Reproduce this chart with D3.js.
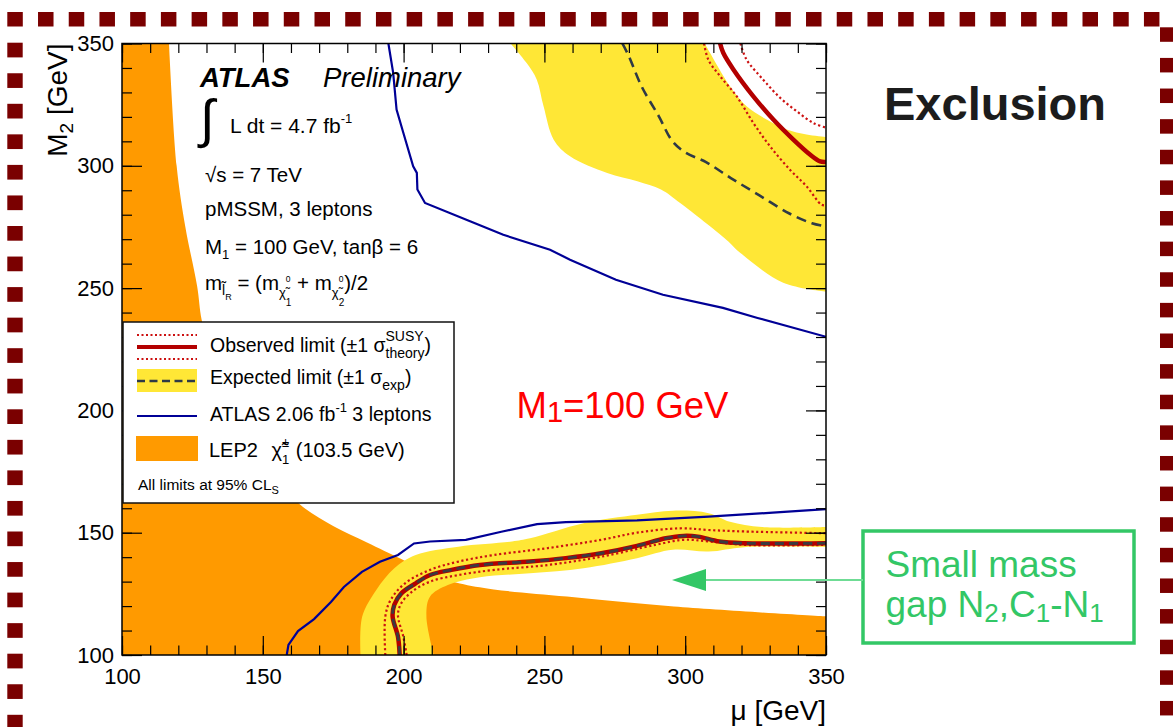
<!DOCTYPE html>
<html>
<head>
<meta charset="utf-8">
<script src="https://cdn.jsdelivr.net/npm/d3@7"></script>
<style>
  body { margin: 0; background: #fff; }
  svg { display: block; }
  text { font-family: "Liberation Sans", Arial, Helvetica, sans-serif; white-space: pre; }
</style>
</head>
<body>
<svg id="chart" width="1173" height="727"></svg>
<script>
// ---- axis ranges and ticks ----
const muRange = [100, 350];
const m2Range = [100, 350];
const majorTicks = [100, 150, 200, 250, 300, 350];
const minorTicks = d3.range(100, 351, 10);

// ---- LEP2 chargino exclusion boundary (region below/left is excluded) ----
const lepBoundary = [[116.7,350],[119.4,300],[122.5,275],[126.7,250.7],[128.3,237],[132,222],[138,205],[146,188],[154,174],[162.5,162.2],[175.3,152.5],[187,146],[199,139.3],[206,135.2],[212,132],[220,129.2],[232,126.8],[258,123.9],[296,119.8],[350,115.8]];

// ---- expected limit +-1 sigma band, high-M2 lobe ----
const expBandHighLower = [[238,350],[243.7,342],[247.3,335.2],[249.7,324.3],[253.3,310.7],[259.1,303.9],[272.3,297.1],[283,293.7],[291.4,290.3],[298.2,284.8],[314.7,269.7],[319.5,264.5],[334.8,252.2],[350,248.6]];
const expBandHighUpper = [[307,350],[308.8,346.2],[315.9,332.5],[321.8,324.3],[328.9,318.9],[336,314.8],[343.1,312.8],[350,311.8]];
// ---- expected limit +-1 sigma band, low-M2 strip ----
const expBandLowUpper = [[184.7,100],[185.3,115.7],[190.3,126.6],[196.7,135.5],[204.3,140.9],[219.5,144.3],[238.5,146.4],[244.9,147.7],[263.9,153.9],[282.9,157.3],[295.6,159],[308.3,158],[315.9,154.5],[327.3,152.3],[350,152.3]];
const expBandLowLower = [[210.7,100],[208.1,115.7],[209.4,123.9],[215.7,128.6],[227.1,131.8],[244.9,133.4],[263.9,135.5],[282.9,139.6],[295.6,143],[308.3,142.3],[321,144.1],[350,144.1]];

// ---- expected limit (median) ----
const expHigh = [[277.7,350],[280,344.8],[284.5,332.5],[290.6,320.3],[295.5,310],[300,305.5],[307.4,301.5],[316.2,295],[326.5,287.8],[337,280.5],[345,276.5],[350,275.2]];
const expLow = [[198.6,100],[198,107.5],[196.1,115.7],[196.7,120.5],[199.2,125.2],[204.3,129.3],[209.4,132.7],[217,134.8],[227.1,136.8],[244.9,138.2],[257.6,139.6],[270.2,141.6],[282.9,144.6],[293.1,147.7],[299.4,148.7],[304.5,148.4],[312.1,146.4],[321,145.7],[350,145.7]];

// ---- observed limit and +-1 sigma theory variations ----
const obsHigh = [[312.4,350],[313.5,346.2],[317.1,339.4],[324.2,328.4],[331.3,318.9],[338.4,310.7],[344.3,304.6],[347.9,301.8],[350,301.6]];
const obsHighUp = [[319.6,350],[321.8,343.4],[327.7,335.2],[333.7,327.8],[339.6,322.3],[345.5,317.5],[350,315.6]];
const obsHighDown = [[306.7,350],[308.2,343.4],[312.4,336.6],[318.3,328.4],[324.2,317.5],[330.1,308],[337.2,298.4],[343.1,291.6],[348.4,284.1],[350,283.8]];
const obsLow = expLow;
const obsLowUp = [[193.5,100],[193.5,115.7],[195.4,122.5],[200.5,129.3],[209.4,134.8],[219.5,138.2],[232.2,140.9],[251.2,143.7],[270.2,147.1],[282.9,150],[298.2,151.8],[308.3,151.1],[321,150.5],[350,149.8]];
const obsLowDown = [[201.1,100],[199.9,107.5],[198,116.4],[199.2,121.2],[203,125.9],[209.4,130],[219.5,132.7],[232.2,134.8],[251.2,136.8],[270.2,140.2],[289.3,145],[299.4,147.1],[308.3,146.4],[321,145],[350,145]];

// ---- previous ATLAS 2.06 fb-1 result ----
const atlasPrevHigh = [[194.6,350],[196.3,338],[197.5,323],[199.9,313.5],[203.4,299.8],[204.7,297.1],[204.9,290.3],[207.6,284.8],[223.6,277.3],[235.4,271.8],[252,265.7],[259.1,261.6],[275.4,253.4],[292.1,247.3],[313.4,241.9],[325.7,237.8],[350,230.1]];
const atlasPrevLow = [[158.5,100],[159.1,104.1],[162.5,109.8],[168.2,114.7],[174.2,121.7],[178.8,127.8],[185.2,134],[191.6,138.1],[198,140.9],[203.7,145.6],[209.4,146.4],[222.1,147.1],[234.7,150.4],[247.4,153.5],[257.6,154.3],[282.9,155],[308.3,156.6],[331.1,158.2],[350,159.6]];

// ---- colours ----
const C = {
  lep: "#ff9a00", band: "#ffe736", obs: "#b30000", obsDot: "#cc1111",
  exp: "#2f3a46", prev: "#000096", frame: "#7a0000", green: "#33c766", note: "#ff0000"
};

const svg = d3.select("#chart");
const W = 1173, H = 727;
svg.append("rect").attr("width", W).attr("height", H).attr("fill", "#fff");

const plot = { left: 122, right: 826, top: 43.5, bottom: 655 };
const x = d3.scaleLinear().domain(muRange).range([plot.left, plot.right]);
const y = d3.scaleLinear().domain(m2Range).range([plot.bottom, plot.top]);

svg.append("clipPath").attr("id", "plotClip").append("rect")
  .attr("x", plot.left).attr("y", plot.top)
  .attr("width", plot.right - plot.left).attr("height", plot.bottom - plot.top);

const smooth = d3.line().x(d => x(d[0])).y(d => y(d[1])).curve(d3.curveCatmullRom.alpha(0.5));
const straight = d3.line().x(d => x(d[0])).y(d => y(d[1]));
const bandPath = (a, b) => smooth(a) + smooth(b.slice().reverse()).replace(/^M/, "L") + "Z";

const g = svg.append("g").attr("clip-path", "url(#plotClip)");

// LEP2 excluded area
g.append("path")
  .attr("d", smooth(lepBoundary) +
    `L${x(350)},${y(100)}L${x(100)},${y(100)}L${x(100)},${y(350)}Z`)
  .attr("fill", C.lep);

// expected +-1 sigma bands
g.append("path").attr("d", bandPath(expBandHighLower, expBandHighUpper)).attr("fill", C.band);
g.append("path").attr("d", bandPath(expBandLowUpper, expBandLowLower)).attr("fill", C.band);

// previous ATLAS contour
[atlasPrevHigh, atlasPrevLow].forEach(d =>
  g.append("path").attr("d", straight(d)).attr("fill", "none")
    .attr("stroke", C.prev).attr("stroke-width", 2.2));

// observed +-1 sigma theory (dotted)
[obsHighUp, obsHighDown, obsLowUp, obsLowDown].forEach(d =>
  g.append("path").attr("d", smooth(d)).attr("fill", "none")
    .attr("stroke", C.obsDot).attr("stroke-width", 2.2).attr("stroke-dasharray", "2.2,2.6"));

// observed limit (solid)
[obsHigh, obsLow].forEach(d =>
  g.append("path").attr("d", smooth(d)).attr("fill", "none")
    .attr("stroke", C.obs).attr("stroke-width", 4.5));

// expected limit (dashed)
g.append("path").attr("d", smooth(expHigh)).attr("fill", "none")
  .attr("stroke", C.exp).attr("stroke-width", 2.6).attr("stroke-dasharray", "10,6");
g.append("path").attr("d", smooth(expLow)).attr("fill", "none")
  .attr("stroke", "#3b3b40").attr("stroke-width", 2.8).attr("stroke-dasharray", "9,5");

// ---- axes: ticks on all four sides, labels on bottom and left ----
function tickAxis(axisFn, scale, values, len, transform) {
  svg.append("g").attr("transform", transform)
    .call(axisFn(scale).tickValues(values).tickSize(-len).tickFormat(""))
    .call(a => a.select(".domain").remove())
    .call(a => a.selectAll("line").attr("stroke", "#000").attr("stroke-width", 1.2));
}
tickAxis(d3.axisBottom, x, minorTicks, 9.5, `translate(0,${plot.bottom})`);
tickAxis(d3.axisBottom, x, majorTicks, 19, `translate(0,${plot.bottom})`);
tickAxis(d3.axisTop, x, minorTicks, 9.5, `translate(0,${plot.top})`);
tickAxis(d3.axisTop, x, majorTicks, 19, `translate(0,${plot.top})`);
tickAxis(d3.axisLeft, y, minorTicks, 10, `translate(${plot.left},0)`);
tickAxis(d3.axisLeft, y, majorTicks, 20, `translate(${plot.left},0)`);
tickAxis(d3.axisRight, y, minorTicks, 10, `translate(${plot.right},0)`);
tickAxis(d3.axisRight, y, majorTicks, 20, `translate(${plot.right},0)`);

svg.append("g").attr("transform", `translate(0,${plot.bottom})`)
  .call(d3.axisBottom(x).tickValues(majorTicks).tickSize(0).tickPadding(13))
  .call(a => a.select(".domain").remove())
  .call(a => a.selectAll("text").attr("font-size", 22).attr("fill", "#000")
    .attr("font-family", "Liberation Sans, Arial, sans-serif"));
svg.append("g").attr("transform", `translate(${plot.left},0)`)
  .call(d3.axisLeft(y).tickValues(majorTicks).tickSize(0).tickPadding(8))
  .call(a => a.select(".domain").remove())
  .call(a => a.selectAll("text").attr("font-size", 22).attr("fill", "#000")
    .attr("font-family", "Liberation Sans, Arial, sans-serif"));

svg.append("rect").attr("x", plot.left).attr("y", plot.top)
  .attr("width", plot.right - plot.left).attr("height", plot.bottom - plot.top)
  .attr("fill", "none").attr("stroke", "#000").attr("stroke-width", 1.5);

// ---- rich text: runs of text with sub/superscripts; returns end x ----
function rich(parent, x0, y0, runs, base) {
  let cx = x0, lastStart = x0;
  runs.forEach(r => {
    const sx = r.stack ? lastStart : cx + (r.dx || 0);
    const t = parent.append("text")
      .attr("x", sx).attr("y", y0 + (r.dy || 0))
      .attr("font-size", r.size || base.size)
      .attr("fill", r.fill || base.fill || "#000")
      .attr("font-weight", r.weight || base.weight || "normal")
      .attr("font-style", r.style || base.style || "normal")
      .text(r.t);
    if (r.family || base.family) t.attr("font-family", r.family || base.family);
    const w = t.node().getComputedTextLength();
    if (!r.stack) lastStart = sx;
    cx = Math.max(cx, sx + w);
  });
  return cx;
}

// axis titles
const xt = svg.append("g");
const xw = rich(xt, 0, 720, [{ t: "μ [GeV]" }], { size: 28 });
xt.attr("transform", `translate(${plot.right - xw},0)`);

const yt = svg.append("g");
const yw = rich(yt, 0, 0, [{ t: "M" }, { t: "2", size: 19, dy: 6 }, { t: " [GeV]" }], { size: 28 });
yt.attr("transform", `translate(67,${plot.top + yw}) rotate(-90)`);

// ---- legend ----
const lg = svg.append("g");
lg.append("rect").attr("x", 123).attr("y", 322).attr("width", 331).attr("height", 181)
  .attr("fill", "#fff").attr("stroke", "#111").attr("stroke-width", 1.5);
const lx0 = 137, lx1 = 197;
[335, 359].forEach(yy => lg.append("line").attr("x1", lx0).attr("x2", lx1).attr("y1", yy).attr("y2", yy)
  .attr("stroke", C.obsDot).attr("stroke-width", 2).attr("stroke-dasharray", "2,2.5"));
lg.append("line").attr("x1", lx0).attr("x2", lx1).attr("y1", 347).attr("y2", 347)
  .attr("stroke", C.obs).attr("stroke-width", 4);
lg.append("rect").attr("x", lx0).attr("y", 369).attr("width", lx1 - lx0).attr("height", 23).attr("fill", C.band);
lg.append("line").attr("x1", lx0).attr("x2", lx1).attr("y1", 381).attr("y2", 381)
  .attr("stroke", C.exp).attr("stroke-width", 2.4).attr("stroke-dasharray", "8,4.5");
lg.append("line").attr("x1", lx0).attr("x2", lx1).attr("y1", 416).attr("y2", 416)
  .attr("stroke", C.prev).attr("stroke-width", 2);
lg.append("rect").attr("x", 136).attr("y", 436).attr("width", 62).attr("height", 25).attr("fill", C.lep);

const LS = { size: 19.5 };
rich(lg, 210, 352, [{ t: "Observed limit (±1 σ" }, { t: "SUSY", size: 14, dy: -11 }, { t: "theory", size: 14, dy: 6, stack: true }, { t: ")" }], LS);
rich(lg, 210, 384, [{ t: "Expected limit (±1 σ" }, { t: "exp", size: 14, dy: 6 }, { t: ")" }], LS);
rich(lg, 210, 421, [{ t: "ATLAS 2.06 fb" }, { t: "-1", size: 13, dy: -9 }, { t: " 3 leptons" }], LS);
rich(lg, 209, 457, [{ t: "LEP2 " }, { t: "χ̃", family: "DejaVu Sans", dx: 8 }, { t: "±", size: 13, dy: -10 }, { t: "1", size: 13, dy: 7, stack: true }, { t: " (103.5 GeV)", dx: 1 }], { size: 20 });
rich(lg, 138, 490, [{ t: "All limits at 95% CL" }, { t: "S", size: 11, dy: 4 }], { size: 15.5 });

// ---- ATLAS label block ----
const tb = svg.append("g");
rich(tb, 200, 87, [{ t: "ATLAS", weight: "bold", style: "italic" }], { size: 27.5 });
rich(tb, 323, 87, [{ t: "Preliminary", style: "italic" }], { size: 27.5 });
rich(tb, 200, 137, [{ t: "∫", family: "DejaVu Sans" }], { size: 53 });
rich(tb, 230, 132.7, [{ t: "L dt = 4.7 fb" }, { t: "-1", size: 13, dy: -10 }], { size: 21 });
rich(tb, 205, 182, [{ t: "√s = 7 TeV" }], { size: 20.5 });
rich(tb, 205, 216, [{ t: "pMSSM, 3 leptons" }], { size: 20.5 });
rich(tb, 205, 254, [{ t: "M" }, { t: "1", size: 13, dy: 5 }, { t: " = 100 GeV, tanβ = 6" }], { size: 20.5 });
rich(tb, 205, 290, [
  { t: "m" }, { t: "l̃", size: 14, dy: 5, family: "DejaVu Sans" }, { t: "R", size: 9, dy: 10 },
  { t: " = (m" }, { t: "χ̃", size: 13, dy: 7, family: "DejaVu Sans" }, { t: "0", size: 8.5, dy: -8 }, { t: "1", size: 10, dy: 16, stack: true },
  { t: " + m" }, { t: "χ̃", size: 13, dy: 7, family: "DejaVu Sans" }, { t: "0", size: 8.5, dy: -8 }, { t: "2", size: 10, dy: 16, stack: true },
  { t: ")/2" }
], { size: 20.5 });

// ---- annotations ----
rich(svg, 516.5, 417.7, [{ t: "M" }, { t: "1", size: 29, dy: 4 }, { t: "=100 GeV" }], { size: 36.5, fill: C.note });
rich(svg, 884, 120, [{ t: "Exclusion", weight: "bold" }], { size: 47, fill: "#1c1c1c" });

// callout box with arrow
svg.append("rect").attr("x", 863).attr("y", 531).attr("width", 271).attr("height", 112)
  .attr("fill", "#fff").attr("stroke", C.green).attr("stroke-width", 3.5);
svg.append("line").attr("x1", 704).attr("x2", 863).attr("y1", 580).attr("y2", 580)
  .attr("stroke", "#6fdc95").attr("stroke-width", 2);
svg.append("path").attr("d", "M672,580L706,569L706,591Z").attr("fill", C.green);
rich(svg, 885.5, 577, [{ t: "Small mass" }], { size: 37, fill: C.green });
rich(svg, 885.5, 617, [{ t: "gap N" }, { t: "2", size: 26, dy: 5 }, { t: ",C" }, { t: "1", size: 26, dy: 5 }, { t: "-N" }, { t: "1", size: 26, dy: 5 }], { size: 37, fill: C.green });

// ---- dotted frame around the slide ----
const fr = svg.append("g").attr("fill", C.frame);
for (let xx = 7.3; xx < 1150; xx += 30.72) fr.append("rect").attr("x", xx).attr("y", 12).attr("width", 15.5).attr("height", 14.5);
for (let yy = 42.7; yy < H; yy += 30.55) fr.append("rect").attr("x", 7.3).attr("y", yy).attr("width", 15.4).attr("height", 14.7);
for (let yy = 27.3; yy < H; yy += 30.62) fr.append("rect").attr("x", 1160).attr("y", yy).attr("width", 15).attr("height", 14.5);
</script>
</body>
</html>
